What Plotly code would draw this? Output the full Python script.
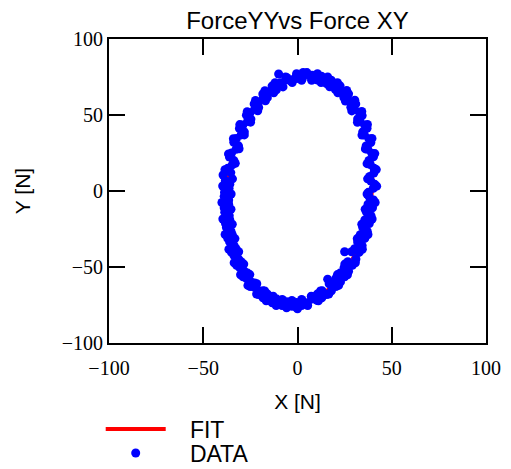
import plotly.graph_objects as go

# Fitted ellipse, every 10 degrees
fit_x = [39.5, 39.6, 38.6, 36.3, 33.1, 28.8, 23.7, 17.9, 11.6, 5.0, -1.7, -8.4,
         -14.8, -20.7, -25.9, -30.3, -33.8, -36.2, -37.5, -37.6, -36.6, -34.3,
         -31.1, -26.8, -21.7, -15.9, -9.6, -3.0, 3.7, 10.4, 16.8, 22.7, 27.9,
         32.3, 35.8, 38.2, 39.5]
fit_y = [0.5, 13.5, 26.2, 38.0, 48.7, 58.0, 65.5, 71.0, 74.4, 75.5, 74.4, 71.0,
         65.5, 58.0, 48.7, 38.0, 26.2, 13.5, 0.5, -12.5, -25.2, -37.0, -47.7,
         -57.0, -64.5, -70.0, -73.4, -74.5, -73.4, -70.0, -64.5, -57.0, -47.7,
         -37.0, -25.2, -12.5, 0.5]

data_x = [40.2, 37.6, 38.9, 41.0, 40.5, 38.3, 38.6, 40.6, 40.3, 37.9,
          37.3, 39.4, 38.9, 36.4, 35.5, 37.9, 36.9, 34.6, 33.2, 35.6,
          34.3, 31.9, 30.2, 32.8, 30.9, 28.3, 26.5, 29.0, 27.1, 24.6,
          22.3, 24.9, 22.6, 20.1, 17.8, 20.3, 17.9, 15.4, 12.9, 15.3,
          12.7, 10.3, 7.7, 10.1, 5.1, 7.4, 3.0, 2.6, 2.1, -0.3,
          -0.6, -2.9, -5.6, -3.3, -6.0, -8.4, -10.9, -9.0, -10.0, -13.5,
          -11.2, -13.6, -16.1, -18.4, -16.0, -18.3, -20.8, -23.0, -20.6, -22.7,
          -25.2, -27.1, -24.7, -26.5, -29.0, -30.8, -28.2, -29.9, -32.4, -33.8,
          -31.3, -32.6, -35.0, -36.1, -33.7, -34.6, -37.0, -39.5, -35.4, -38.3,
          -35.9, -36.3, -38.7, -38.9, -36.5, -36.5, -38.9, -38.6, -36.2, -35.9,
          -38.2, -37.7, -35.3, -34.6, -37.0, -36.0, -33.6, -32.6, -35.0, -33.7,
          -31.2, -29.9, -32.3, -30.7, -28.2, -26.5, -28.9, -27.1, -24.6, -22.7,
          -25.1, -22.9, -20.4, -18.3, -20.7, -18.3, -15.9, -13.5, -15.9, -13.4,
          -11.0, -8.4, -10.8, -8.2, -5.8, -3.1, -5.5, -2.9, -0.5, 0.0,
          2.2, 2.5, 4.9, 5.2, 7.6, 10.3, 7.9, 10.5, 12.9, 15.5,
          13.1, 16.0, 18.0, 18.0, 20.4, 22.8, 20.4, 22.6, 25.0, 27.1,
          24.7, 26.7, 29.1, 25.0, 31.0, 30.3, 32.7, 34.3, 31.9, 33.3,
          35.7, 37.0, 34.6, 35.7, 38.1, 39.0, 36.6, 37.4, 39.8, 40.3,
          37.9,
          42.0, 37.2, 41.8, 36.9, 41.0, 36.0, 39.5, 34.2, 37.1, 31.8,
          34.1, 28.8, 30.4, 25.4, 26.1, 21.4, 21.2, 17.1, 16.0, 12.5,
          10.6, 7.5, 5.0, 2.2, -0.5, -2.8, -6.3, -7.7, -11.9, -12.6,
          -17.3, -17.0, -22.3, -21.1, -26.7, -24.9, -30.6, -28.2, -34.0, -31.0,
          -36.6, -33.0, -38.5, -34.5, -39.7, -35.2, -40.1, -35.3, -39.6, -34.6,
          -38.4, -33.2, -36.4, -31.2, -33.6, -28.5, -30.2, -25.3, -26.3, -21.6,
          -21.7, -17.4, -16.6, -12.9, -11.3, -8.1, -5.8, -3.0, -0.3, 2.2,
          5.4, 7.3, 11.1, 12.2, 16.6, 16.8, 21.8, 21.2, 26.5, 25.1,
          30.7, 28.7, 34.4, 31.7, 37.4, 34.1, 39.6, 35.9, 41.2, 36.9]
data_y = [1.8, -0.9, 6.5, 4.4, 11.8, 9.6, 17.4, 15.0, 22.5, 20.1,
          27.4, 24.8, 31.9, 29.6, 36.8, 34.3, 41.3, 38.9, 45.9, 43.5,
          49.6, 47.4, 53.9, 51.8, 57.3, 55.1, 60.8, 58.4, 63.9, 61.5,
          66.8, 64.6, 69.2, 66.7, 71.4, 69.1, 72.9, 70.6, 74.6, 72.2,
          75.5, 73.1, 76.2, 74.0, 76.8, 74.3, 78.0, 74.2, 76.3, 74.0,
          75.6, 73.2, 74.5, 72.1, 73.0, 70.7, 69.2, 71.2, 77.0, 69.0,
          66.6, 66.7, 64.3, 63.8, 61.4, 60.9, 58.3, 57.3, 54.9, 53.8,
          51.4, 49.9, 47.3, 45.8, 43.4, 41.1, 38.9, 36.9, 34.6, 32.1,
          29.7, 27.4, 25.0, 22.3, 20.0, 17.2, 14.9, 10.5, 12.1, 6.8,
          4.5, 1.7, -0.8, -3.5, -5.9, -8.7, -11.1, -13.9, -16.3, -19.0,
          -21.4, -24.0, -26.4, -28.8, -31.2, -33.5, -35.9, -38.0, -40.4, -42.4,
          -44.8, -46.5, -48.9, -50.4, -52.8, -54.0, -56.4, -57.4, -59.8, -60.5,
          -62.9, -63.3, -65.7, -65.7, -68.1, -70.2, -67.8, -69.6, -72.0, -73.5,
          -71.1, -72.2, -74.6, -75.3, -72.9, -73.3, -75.7, -75.9, -73.3, -77.5,
          -75.3, -72.2, -74.6, -73.5, -71.1, -72.0, -69.6, -67.8, -70.2, -68.1,
          -65.7, -58.0, -65.7, -60.5, -62.9, -59.8, -57.4, -54.0, -56.4, -52.8,
          -50.4, -46.5, -48.9, -40.0, -44.8, -38.0, -40.4, -35.9, -33.5, -28.8,
          -31.2, -26.4, -24.0, -19.0, -21.4, -16.3, -13.9, -8.7, -11.1, -5.9,
          -3.5,
          3.2, 8.0, 14.1, 18.0, 24.6, 27.7, 34.6, 36.8, 43.8, 45.2,
          52.3, 52.7, 59.7, 59.2, 66.1, 64.6, 71.2, 68.6, 75.0, 71.4,
          77.2, 72.8, 77.9, 72.8, 77.2, 71.4, 75.0, 68.5, 71.2, 64.6,
          66.0, 59.3, 59.6, 52.8, 52.2, 45.3, 43.7, 36.9, 34.4, 27.8,
          24.4, 18.2, 14.0, 8.0, 3.3, -2.0, -7.6, -12.0, -18.4, -21.9,
          -28.6, -31.3, -38.3, -40.0, -47.2, -48.1, -55.1, -55.0, -62.1, -61.0,
          -67.8, -65.8, -72.2, -69.2, -75.3, -71.3, -76.8, -72.0, -76.8, -71.3,
          -75.3, -69.2, -72.2, -65.8, -67.8, -61.0, -62.1, -55.0, -55.1, -48.1,
          -47.2, -40.0, -38.3, -31.3, -28.6, -21.9, -18.4, -12.0, -7.6, -2.0]

tick_vals = [-100, -50, 0, 50, 100]

fig = go.Figure()
fig.add_trace(go.Scatter(x=fit_x, y=fit_y, mode="lines", name="\u00a0\u00a0\u00a0FIT",
                         line=dict(color="#ff0000", width=4, shape="spline"),
                         legend="legend"))
fig.add_trace(go.Scatter(x=data_x, y=data_y, mode="markers", name="\u00a0\u00a0\u00a0DATA",
                         marker=dict(color="#0000ff", size=9, line=dict(width=0)),
                         legend="legend2"))

axis_common = dict(
    range=[-100, 100], tickvals=tick_vals, ticks="inside", ticklen=16,
    tickwidth=2, tickcolor="black", showline=True, linewidth=2,
    linecolor="black", mirror="ticks", showgrid=False, zeroline=False,
    automargin=False,
    tickfont=dict(family="Liberation Serif", size=20, color="black"),
)

# The page body adds an 8 px offset, so the figure is laid out 8 px up/left;
# the extra bottom space keeps the legends from pushing the plot margin.
fig.update_layout(
    width=511, height=485,
    margin=dict(l=101, r=33, t=31, b=150),
    paper_bgcolor="white", plot_bgcolor="white",
    title=dict(text="ForceYYvs Force XY", x=0.5, xref="paper", xanchor="center",
               y=1 - 13 / 485, yref="container", yanchor="middle",
               font=dict(family="Liberation Sans", size=24, color="black")),
    xaxis=dict(axis_common, ticklabelstandoff=6,
               title=dict(text="X [N]", standoff=16,
                          font=dict(family="Liberation Sans", size=21, color="black"))),
    yaxis=dict(axis_common,
               title=dict(text="Y [N]", standoff=25,
                          font=dict(family="Liberation Sans", size=21, color="black"))),
    showlegend=True,
    legend=dict(x=-0.022, y=-0.283, xanchor="left", yanchor="middle",
                bgcolor="rgba(0,0,0,0)", itemwidth=60,
                font=dict(family="Liberation Sans", size=23, color="black")),
    legend2=dict(x=-0.022, y=-0.362, xanchor="left", yanchor="middle",
                 bgcolor="rgba(0,0,0,0)", itemwidth=60,
                 font=dict(family="Liberation Sans", size=23, color="black")),
)

fig.write_html("out.html")
